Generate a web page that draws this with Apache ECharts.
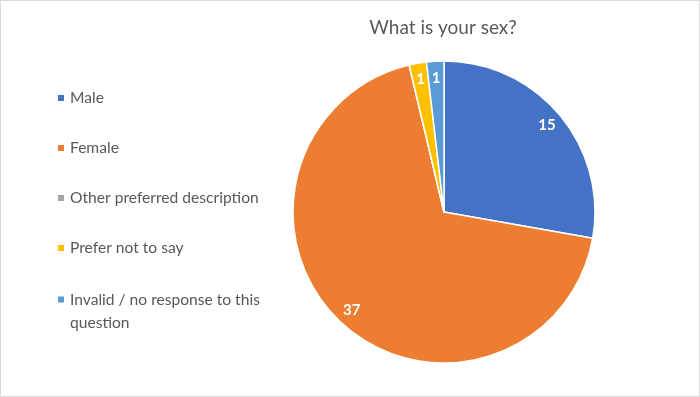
<!DOCTYPE html>
<html>
<head>
<meta charset="utf-8">
<script src="https://cdn.jsdelivr.net/npm/echarts@6/dist/echarts.min.js"></script>
<style>
    html, body { margin: 0; padding: 0; background: #fff; }
    #main {
        width: 700px;
        height: 397px;
        box-sizing: border-box;
        border: 1px solid #d9d9d9;
    }
</style>
</head>
<body>
<div id="main"></div>
<script>
    var categories = ['Male', 'Female', 'Other preferred description', 'Prefer not to say', 'Invalid / no response to this question'];
    var counts = [15, 37, 0, 1, 1];
    var colors = ['#4472C4', '#ED7D31', '#A5A5A5', '#FFC000', '#5B9BD5'];

    var FONT = 'Lato, "Open Sans", sans-serif';
    var chart = echarts.init(document.getElementById('main'));

    var pieData = categories.map(function (name, i) {
        return {name: name, value: counts[i], itemStyle: {color: colors[i]}};
    });
    var labelData = categories.map(function (name, i) {
        return {name: name, value: counts[i]};
    });

    var option = {
        animation: false,
        title: {
            text: 'What is your sex?',
            left: 442,
            top: 17,
            padding: 0,
            textAlign: 'center',
            textStyle: {
                fontFamily: FONT,
                fontSize: 19,
                fontWeight: 'normal',
                color: '#595959'
            }
        },
        legend: [{
            orient: 'vertical',
            left: 55,
            top: 86,
            padding: 0,
            icon: 'rect',
            itemWidth: 8,
            itemHeight: 8,
            itemGap: 28,
            data: categories.slice(0, 4),
            textStyle: {fontFamily: FONT, fontSize: 15.6, color: '#595959', lineHeight: 22}
        }, {
            orient: 'vertical',
            left: 55,
            top: 264,
            padding: 0,
            icon: 'rect',
            itemWidth: 8,
            itemHeight: 8,
            data: categories.slice(4),
            formatter: function () {
                return '\nInvalid / no response to this\nquestion';
            },
            textStyle: {fontFamily: FONT, fontSize: 15.6, color: '#595959', lineHeight: 23}
        }],
        series: [{
            type: 'pie',
            center: [443, 211],
            radius: [0, 151],
            startAngle: 90,
            clockwise: true,
            label: {show: false},
            labelLine: {show: false},
            itemStyle: {borderColor: '#fff', borderWidth: 1.5},
            emphasis: {disabled: true},
            data: pieData
        }, {
            type: 'pie',
            center: [443, 211],
            radius: [112, 151],
            startAngle: 90,
            clockwise: true,
            silent: true,
            itemStyle: {color: 'transparent'},
            label: {
                show: true,
                position: 'inside',
                color: '#fff',
                fontFamily: FONT,
                fontSize: 15,
                fontWeight: 'bold',
                formatter: function (p) {
                    return p.value ? String(p.value) : '';
                }
            },
            labelLine: {show: false},
            emphasis: {disabled: true},
            data: labelData
        }]
    };

    chart.setOption(option);
</script>
</body>
</html>
